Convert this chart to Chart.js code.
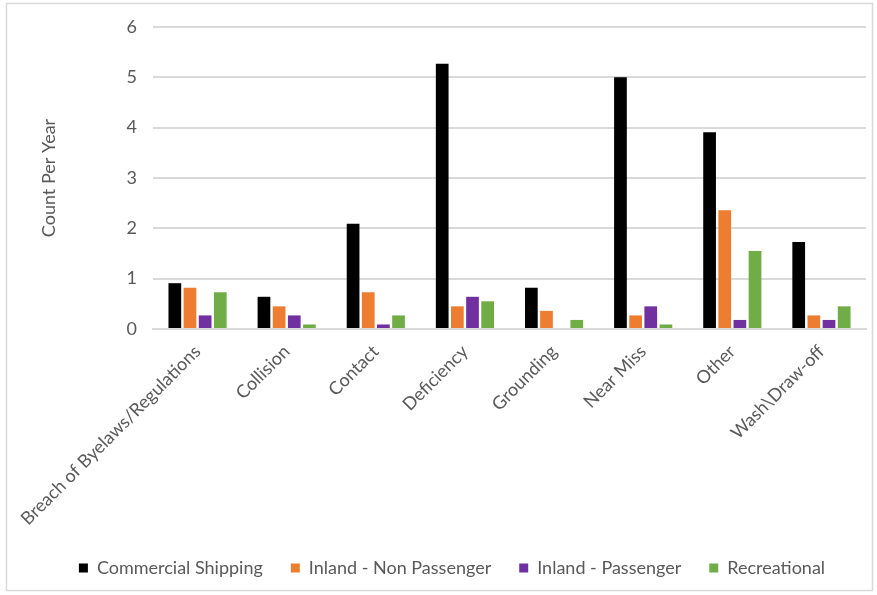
<!DOCTYPE html>
<html>
<head>
<meta charset="utf-8">
<script src="https://cdn.jsdelivr.net/npm/chart.js@4.4.1/dist/chart.umd.min.js"></script>
<style>
  html, body { margin: 0; padding: 0; background: #ffffff; }
  #wrap { position: relative; width: 877px; height: 595px; }
  canvas { display: block; }
</style>
</head>
<body>
<div id="wrap"><canvas id="c" width="877" height="595"></canvas></div>
<script>
const categories = ["Breach of Byelaws/Regulations", "Collision", "Contact", "Deficiency", "Grounding", "Near Miss", "Other", "Wash\\Draw-off"];
const commercialShipping = [0.91, 0.64, 2.09, 5.27, 0.82, 5.00, 3.91, 1.73];
const inlandNonPassenger = [0.82, 0.45, 0.73, 0.45, 0.36, 0.27, 2.36, 0.27];
const inlandPassenger    = [0.27, 0.27, 0.09, 0.64, 0.00, 0.45, 0.18, 0.18];
const recreational       = [0.73, 0.09, 0.27, 0.55, 0.18, 0.09, 1.55, 0.45];
const yTicks = [0, 1, 2, 3, 4, 5, 6];

const FONT = "Lato, sans-serif";
const TXT = '#595959';
const FS = 18;

const frame = {
  id: 'frame',
  beforeDraw(chart) {
    const ctx = chart.ctx;
    ctx.save();
    ctx.fillStyle = '#ffffff';
    ctx.fillRect(0, 0, chart.width, chart.height);
    ctx.strokeStyle = '#d9d9d9';
    ctx.lineWidth = 1.5;
    ctx.strokeRect(6.5, 3.5, 866, 587);
    ctx.restore();
  }
};

new Chart(document.getElementById('c'), {
  type: 'bar',
  data: {
    labels: categories,
    datasets: [
      { label: 'Commercial Shipping', data: commercialShipping, backgroundColor: '#000000' },
      { label: 'Inland - Non Passenger', data: inlandNonPassenger, backgroundColor: '#ED7D31' },
      { label: 'Inland - Passenger', data: inlandPassenger, backgroundColor: '#7030A0' },
      { label: 'Recreational', data: recreational, backgroundColor: '#70AD47' }
    ]
  },
  options: {
    responsive: false,
    animation: false,
    devicePixelRatio: 1,
    layout: { padding: { left: 38, right: 11, top: 27, bottom: 8 } },
    datasets: { bar: { categoryPercentage: 0.68, barPercentage: 0.84 } },
    plugins: {
      legend: {
        position: 'bottom',
        labels: {
          font: { family: FONT, size: FS },
          color: TXT,
          boxWidth: 9,
          boxHeight: 9,
          padding: 28
        }
      },
      tooltip: { enabled: false }
    },
    scales: {
      x: {
        grid: { display: false },
        border: { display: true, color: '#d9d9d9', width: 2 },
        ticks: {
          font: { family: FONT, size: FS },
          color: TXT,
          autoSkip: false,
          maxRotation: 45,
          minRotation: 45,
          padding: 4
        },
        afterFit(s) { s.height = 202; }
      },
      y: {
        min: 0,
        max: 6,
        afterBuildTicks(s) { s.ticks = yTicks.map(v => ({ value: v })); },
        grid: { color: '#d9d9d9', lineWidth: 2, drawTicks: false },
        border: { display: false },
        ticks: {
          font: { family: FONT, size: FS },
          color: TXT,
          padding: 16
        },
        title: {
          display: true,
          text: 'Count Per Year',
          font: { family: FONT, size: FS },
          color: TXT,
          padding: { top: 0, bottom: 0 }
        },
        afterFit(s) { s.width = 115; }
      }
    }
  },
  plugins: [frame]
});
</script>
</body>
</html>
